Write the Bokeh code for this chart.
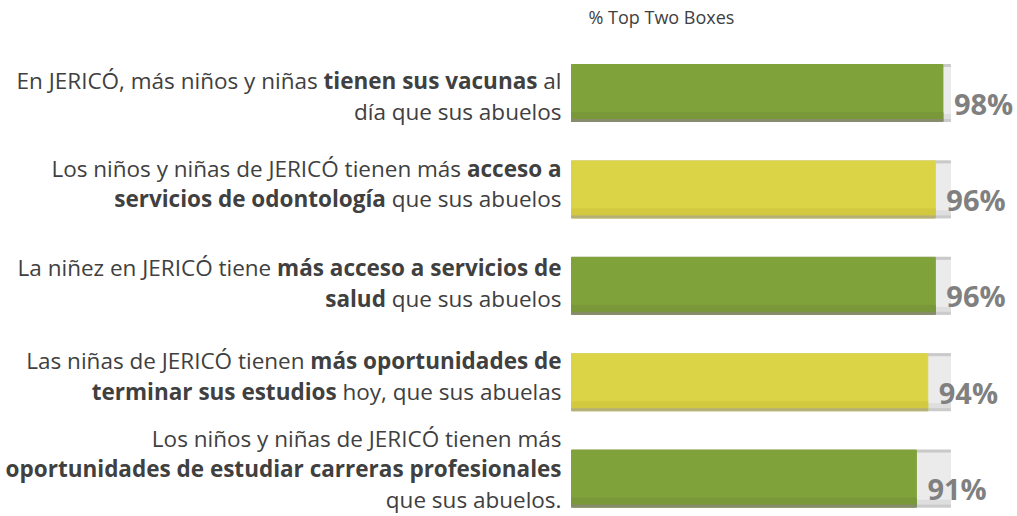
import os
import struct
import subprocess

from bokeh.plotting import figure
from bokeh.models import ColumnDataSource, Range1d, CustomJS
from bokeh.document import Document
from bokeh.events import DocumentReady
from bokeh.embed import file_html
from bokeh.resources import INLINE
from bokeh.core.properties import value

# ---------------- data ----------------
statements = [
    "En JERICÓ, más niños y niñas **tienen sus vacunas** al\ndía que sus abuelos",
    "Los niños y niñas de JERICÓ tienen más **acceso a**\n**servicios de odontología** que sus abuelos",
    "La niñez en JERICÓ tiene **más acceso a servicios de**\n**salud** que sus abuelos",
    "Las niñas de JERICÓ tienen **más oportunidades de**\n**terminar sus estudios** hoy, que sus abuelas",
    "Los niños y niñas de JERICÓ tienen más\n**oportunidades de estudiar carreras profesionales**\nque sus abuelos.",
]
top_two_boxes = [98, 96, 96, 94, 91]
pct_labels = ["98%", "96%", "96%", "94%", "91%"]
bar_colors = ["#80A23B", "#DCD447", "#80A23B", "#DCD447", "#80A23B"]
bar_shade = ["#78983A", "#D3C941", "#78983A", "#D3C941", "#78983A"]
bar_edge = ["#868C6C", "#B5B077", "#868C6C", "#B5B077", "#868C6C"]
title_text = "% Top Two Boxes"

FONT = "Open Sans"
LABEL_SIZE = 22.5
PCT_SIZE = 29
label_shift_px = [-3, -12, -9, -12, -16]   # vertical nudge of each label block

# ---------------- font metrics (fallback if browser measuring is unavailable) ----------------
def _find_font(family, bold):
    style = "bold" if bold else "regular"
    try:
        out = subprocess.run(["fc-match", "-f", "%{file}", f"{family}:{style}"],
                             capture_output=True, text=True, timeout=10).stdout.strip()
        if out and os.path.exists(out):
            return out
    except Exception:
        pass
    return None


def _load_advances(path, bold):
    data = open(path, "rb").read()
    base = 0
    if data[:4] == b"ttcf":
        base = struct.unpack(">I", data[12:16])[0]
    num = struct.unpack(">H", data[base + 4:base + 6])[0]
    tables = {}
    for i in range(num):
        o = base + 12 + 16 * i
        tag, cs, off, ln = struct.unpack(">4sIII", data[o:o + 16])
        tables[tag.decode("latin1")] = off
    head = tables["head"]
    upem = struct.unpack(">H", data[head + 18:head + 20])[0]
    hhea = tables["hhea"]
    nhm = struct.unpack(">H", data[hhea + 34:hhea + 36])[0]
    hmtx = tables["hmtx"]
    adv = [struct.unpack(">H", data[hmtx + 4 * i:hmtx + 4 * i + 2])[0] for i in range(nhm)]
    scale = 1.07 if (bold and "fvar" in tables) else 1.0
    cmap = tables["cmap"]
    nsub = struct.unpack(">H", data[cmap + 2:cmap + 4])[0]
    sub4 = None
    for i in range(nsub):
        pid, eid, off = struct.unpack(">HHI", data[cmap + 4 + 8 * i:cmap + 12 + 8 * i])
        fmt = struct.unpack(">H", data[cmap + off:cmap + off + 2])[0]
        if fmt == 4 and sub4 is None:
            sub4 = cmap + off

    def u16(a):
        return struct.unpack(">H", data[a:a + 2])[0]

    def glyph(c):
        if sub4 is None:
            return 0
        segx2 = u16(sub4 + 6)
        ends = sub4 + 14
        starts = ends + segx2 + 2
        deltas = starts + segx2
        ranges = deltas + segx2
        for k in range(segx2 // 2):
            e = u16(ends + 2 * k)
            if e >= c:
                s = u16(starts + 2 * k)
                if s > c:
                    return 0
                d = u16(deltas + 2 * k)
                ro = u16(ranges + 2 * k)
                if ro == 0:
                    return (c + d) & 0xFFFF
                g = u16(ranges + 2 * k + ro + 2 * (c - s))
                return (g + d) & 0xFFFF if g else 0
        return 0

    cache = {}

    def width(text, size):
        tot = 0
        for ch in text:
            if ch not in cache:
                g = glyph(ord(ch))
                cache[ch] = adv[min(g, nhm - 1)] / upem * scale
            tot += cache[ch]
        return tot * size

    return width


def _metrics(bold):
    try:
        path = _find_font(FONT, bold)
        if path:
            return _load_advances(path, bold)
    except Exception:
        pass
    factor = 0.58 if bold else 0.54
    return lambda text, size: len(text) * factor * size


width_regular = _metrics(False)
width_bold = _metrics(True)

# ---------------- figure ----------------
W, H = 1015, 514
PX_PER_UNIT = 3.79          # horizontal pixels per percentage point
ZERO_PX = 571               # pixel of the 0% baseline
ROW_PX = 96.4               # vertical pixels per category
FIRST_ROW_PX = 92.5         # pixel of first category centre

p = figure(width=W, height=H, output_backend="svg", toolbar_location=None,
           x_range=Range1d(-ZERO_PX / PX_PER_UNIT, (W - ZERO_PX) / PX_PER_UNIT),
           y_range=Range1d((H - FIRST_ROW_PX) / ROW_PX, -FIRST_ROW_PX / ROW_PX),
           min_border=0, outline_line_color=None, background_fill_color="white",
           border_fill_color="white")
p.axis.visible = False
p.grid.visible = False

ys = list(range(len(top_two_boxes)))
bar_h = 57 / ROW_PX
px = 1 / ROW_PX

# grey 100 % track
p.hbar(y=ys, left=0, right=100, height=bar_h, color="#EBEBEB")
p.hbar(y=[y - bar_h / 2 + px for y in ys], left=0, right=100, height=2 * px, color="#C9C9C9")
p.hbar(y=[y + bar_h / 2 - 4 * px for y in ys], left=0, right=100, height=6 * px, color="#DEDEDE")
p.hbar(y=[y + bar_h / 2 - px for y in ys], left=0, right=100, height=2 * px, color="#CBCBCB")

# value bars
src = ColumnDataSource(dict(y=ys, v=top_two_boxes, c=bar_colors, s=bar_shade, e=bar_edge,
                            ysh=[y + bar_h / 2 - 5 * px for y in ys],
                            yed=[y + bar_h / 2 - px for y in ys]))
p.hbar(y="y", left=0, right="v", height=bar_h, color="c", source=src)
p.hbar(y="ysh", left=0, right="v", height=8 * px, color="s", source=src)
p.hbar(y="yed", left=0, right="v", height=2 * px, color="e", source=src)

# percentage labels
p.text(x="v", y="y", text="t", source=ColumnDataSource(dict(v=top_two_boxes, y=ys, t=pct_labels)),
       x_offset=11, y_offset=10, text_font=value(FONT), text_font_style="bold",
       text_font_size=f"{PCT_SIZE}px", text_color="#808080",
       text_align="left", text_baseline="alphabetic")

# title
p.text(x=[(588 - ZERO_PX) / PX_PER_UNIT], y=[(16 - FIRST_ROW_PX) / ROW_PX], text=[title_text],
       text_font=value(FONT), text_font_size="18px", text_color="#404040",
       text_align="left", text_baseline="middle")

# statement labels (right aligned, mixed weights)
right_x = -10 / PX_PER_UNIT
line_pitch = 30.5
reg = dict(x=[], y=[], t=[], xo=[], yo=[])
bld = dict(x=[], y=[], t=[], xo=[], yo=[])
line_layout = []
for i, stmt in enumerate(statements):
    lines = stmt.split("\n")
    n = len(lines)
    for k, line in enumerate(lines):
        parts = line.split("**")
        segs = [(txt, j % 2 == 1) for j, txt in enumerate(parts) if txt]
        widths = [(width_bold if b else width_regular)(t, LABEL_SIZE) for t, b in segs]
        start = -sum(widths)
        yo = (k - (n - 1) / 2) * line_pitch + 6 + label_shift_px[i]
        entry = []
        for (t, b), w in zip(segs, widths):
            fn = width_bold if b else width_regular
            lead = len(t) - len(t.lstrip(" "))
            d = bld if b else reg
            entry.append([t, b, len(d["t"])])
            d["x"].append(right_x)
            d["y"].append(i)
            d["t"].append(t.strip(" "))
            d["xo"].append(start + fn(" " * lead, LABEL_SIZE))
            d["yo"].append(yo)
            start += w
        line_layout.append(entry)

src_reg = ColumnDataSource(reg)
src_bld = ColumnDataSource(bld)
for s, style in ((src_reg, "normal"), (src_bld, "bold")):
    p.text(x="x", y="y", text="t", x_offset="xo", y_offset="yo",
           source=s, text_font=value(FONT), text_font_style=style,
           text_font_size=f"{LABEL_SIZE}px", text_color="#404040",
           text_align="left", text_baseline="alphabetic")

# refine the segment offsets with the browser's own text measurement
measure = CustomJS(args=dict(reg=src_reg, bld=src_bld, lines=line_layout,
                             font=FONT, size=LABEL_SIZE), code="""
try {
  const ctx = document.createElement('canvas').getContext('2d');
  const w = (t, b) => { ctx.font = (b ? 'bold ' : 'normal ') + size + 'px "' + font + '"';
                        return ctx.measureText(t).width; };
  const xr = Array.from(reg.data.xo), xb = Array.from(bld.data.xo);
  for (const line of lines) {
    const ws = line.map(s => w(s[0], s[1]));
    let start = -ws.reduce((a, b) => a + b, 0);
    line.forEach((s, j) => {
      const lead = s[0].length - s[0].replace(/^ +/, '').length;
      const xo = start + (lead ? w(' '.repeat(lead), s[1]) : 0);
      if (s[1]) { xb[s[2]] = xo; } else { xr[s[2]] = xo; }
      start += ws[j];
    });
  }
  reg.data = Object.assign({}, reg.data, {xo: xr});
  bld.data = Object.assign({}, bld.data, {xo: xb});
} catch (e) { console.log(e); }
""")
doc = Document()
doc.add_root(p)
doc.js_on_event(DocumentReady, measure)

open("out.html", "w").write(file_html(p, INLINE))
